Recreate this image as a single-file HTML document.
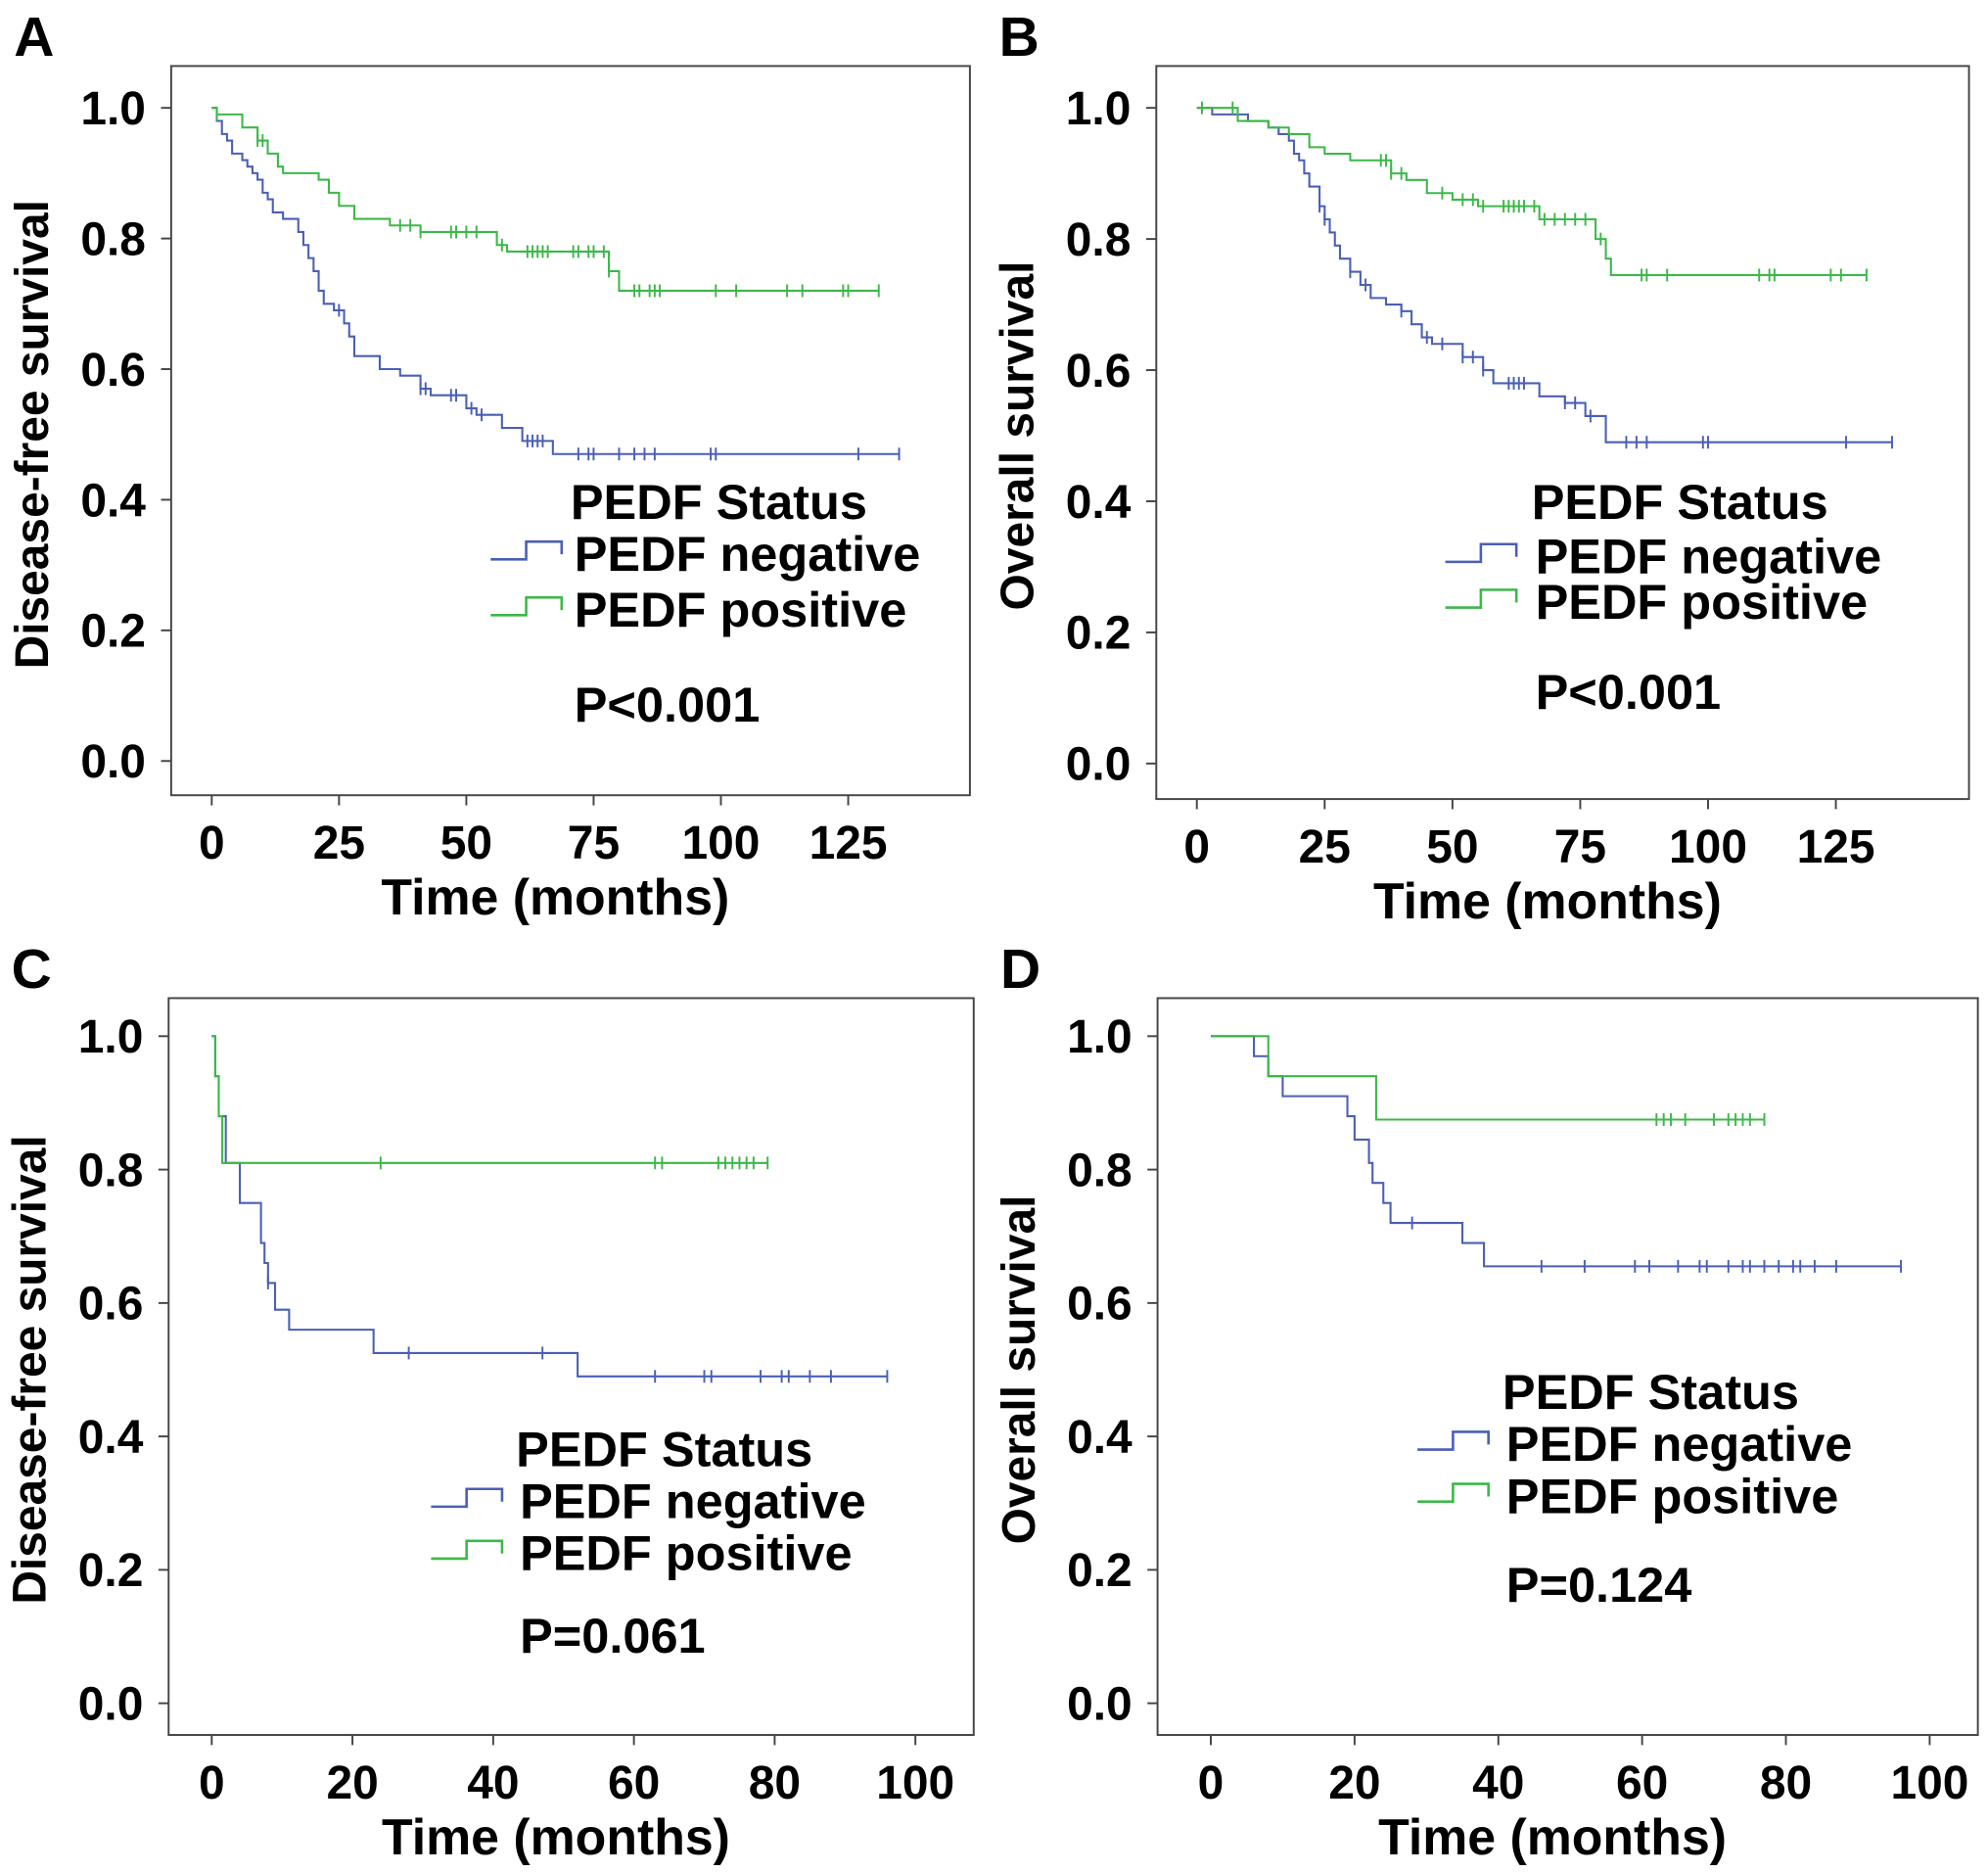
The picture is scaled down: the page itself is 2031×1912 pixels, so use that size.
<!DOCTYPE html>
<html><head><meta charset="utf-8"><style>
html,body{margin:0;padding:0;background:#fff}
svg{display:block}
text{font-family:"Liberation Sans",Arial,sans-serif;font-weight:bold;fill:#000}
</style></head><body>
<svg id="fig" width="2031" height="1912" viewBox="0 0 1568 1476" xmlns="http://www.w3.org/2000/svg"></svg>
<script>
// ---- Panel A data (Disease-free survival) ----
const aNegTimes=[0,1,2,3,4,6,7,8,9,10,11,12,14,17,18,19,20,21,22,24,26,27,28,33,37,41,43,50,52,57,61,67];
const aNegSurv=[1,0.98,0.96,0.95,0.93,0.92,0.91,0.90,0.89,0.87,0.86,0.84,0.83,0.81,0.79,0.77,0.75,0.72,0.70,0.69,0.67,0.65,0.62,0.60,0.59,0.57,0.56,0.54,0.53,0.51,0.49,0.47];
const aNegCens=[25,41,42,47,48,51,53,62,63,64,65,72,74,75,80,83,85,87,98,99,127,135];
const aPosTimes=[0,1,6,9,11,13,14,21,23,25,28,35,41,56,58,78,80];
const aPosSurv=[1,0.99,0.97,0.95,0.93,0.91,0.90,0.89,0.87,0.85,0.83,0.82,0.81,0.79,0.78,0.75,0.72];
const aPosCens=[1,9,10,37,39,41,47,48,50,52,57,62,63,64,65,66,71,72,74,75,77,78,83,84,86,87,88,99,103,113,116,124,125,131];
// ---- Panel B data (Overall survival) ----
const bNegTimes=[0,3,10,14,16,18,19,20,21,22,24,25,26,27,28,30,32,34,37,40,42,44,46,52,56,58,67,72,76,80];
const bNegSurv=[1,0.99,0.98,0.97,0.96,0.95,0.93,0.92,0.90,0.88,0.85,0.83,0.81,0.79,0.77,0.75,0.73,0.71,0.70,0.69,0.67,0.65,0.64,0.62,0.60,0.58,0.56,0.55,0.53,0.49];
const bNegCens=[24,25,30,33,40,45,48,52,54,56,61,62,63,64,72,74,77,84,86,88,99,100,127,136];
const bPosTimes=[0,8,14,18,22,25,30,38,41,45,50,55,67,78,80,81];
const bPosSurv=[1,0.98,0.97,0.96,0.94,0.93,0.92,0.90,0.89,0.87,0.86,0.85,0.83,0.80,0.77,0.745];
const bPosCens=[1,7,36,37,38,40,48,52,54,56,60,61,62,63,64,66,68,70,72,74,76,79,87,88,92,110,112,113,124,126,131];
// ---- Panel C data ----
const cNegTimes=[0,0.5,1,2,4,7,7.5,8,9,11,23,52];
const cNegSurv=[1,0.94,0.88,0.81,0.75,0.69,0.66,0.63,0.59,0.56,0.525,0.49];
const cNegCens=[8,28,47,63,70,71,78,81,82,85,88,96];
const cPosTimes=[0,0.5,1,1.5];
const cPosSurv=[1,0.94,0.88,0.81];
const cPosCens=[24,63,64,72,73,74,75,76,77,79];
// ---- Panel D data ----
const dNegTimes=[0,6,8,10,19,20,22,22.5,24,25,35,38];
const dNegSurv=[1,0.97,0.94,0.91,0.88,0.845,0.81,0.78,0.75,0.72,0.69,0.655];
const dNegCens=[28,46,52,59,61,65,68,69,72,74,75,77,79,81,82,84,87,96];
const dPosTimes=[0,8,23];
const dPosSurv=[1,0.94,0.875];
const dPosCens=[62,63,64,66,70,72,73,74,75,77];
// tick labels
const yTicks=[0,0.2,0.4,0.6,0.8,1.0];
const xTicksAB=[0,25,50,75,100,125];
const xTicksCD=[0,20,40,60,80,100];
const pA="P<0.001", pB="P<0.001", pC="P=0.061", pD="P=0.124";

const NS="http://www.w3.org/2000/svg";
const svg=document.getElementById('fig');
function mk(tag,attrs,parent){const e=document.createElementNS(NS,tag);for(const k in attrs)e.setAttribute(k,attrs[k]);(parent||svg).appendChild(e);return e;}
const BLUE="#4a5fb5", GREEN="#3cb84a";

const panels=[
 {id:'a',letter:'A',box:[135,52,765,627],y1:85,y0:600,x0:167,xMax:125,xMaxPx:669,xt:xTicksAB,ytitle:'Disease-free survival',
  neg:[aNegTimes,aNegSurv,aNegCens,135],pos:[aPosTimes,aPosSurv,aPosCens,131],p:pA,
  leg:{sx:387,tx:450,st:396,ng:437,ps:481,pv:556}},
 {id:'b',letter:'B',box:[912,52,1553,630],y1:85,y0:602,x0:944,xMax:125,xMaxPx:1448,xt:xTicksAB,ytitle:'Overall survival',
  neg:[bNegTimes,bNegSurv,bNegCens,136],pos:[bPosTimes,bPosSurv,bPosCens,131],p:pB,
  leg:{sx:1140,tx:1208,st:396,ng:439,ps:475,pv:546}},
 {id:'c',letter:'C',box:[133,787,768,1368],y1:817,y0:1343,x0:167,xMax:100,xMaxPx:722,xt:xTicksCD,ytitle:'Disease-free survival',
  neg:[cNegTimes,cNegSurv,cNegCens,96],pos:[cPosTimes,cPosSurv,cPosCens,79],p:pC,
  leg:{sx:340,tx:407,st:1143,ng:1184,ps:1225,pv:1290}},
 {id:'d',letter:'D',box:[913,787,1560,1368],y1:817,y0:1343,x0:955,xMax:100,xMaxPx:1522,xt:xTicksCD,ytitle:'Overall survival',
  neg:[dNegTimes,dNegSurv,dNegCens,96],pos:[dPosTimes,dPosSurv,dPosCens,77],p:pD,
  leg:{sx:1118,tx:1185,st:1098,ng:1139,ps:1180,pv:1250}}
];

panels.forEach(P=>{
  const g=mk('g',{});
  
  
  const X=t=>P.x0+(P.xMaxPx-P.x0)*t/P.xMax;
  const Y=s=>P.y0+(P.y1-P.y0)*s;
  const [l,t,r,b]=P.box;
  const lt=mk('text',{x:l-124,y:t-8,'font-size':44},g);lt.textContent=P.letter;
  
  
  const fr=mk('rect',{x:l,y:t,width:r-l,height:b-t,fill:'none',stroke:'#444','stroke-width':1.5},g);
  
  
  yTicks.forEach(v=>{
    mk('line',{x1:l-8,x2:l,y1:Y(v),y2:Y(v),stroke:'#444','stroke-width':1.5},g);
    const tx=mk('text',{x:l-20,y:Y(v)+13,'font-size':37,'text-anchor':'end'},g);tx.textContent=v.toFixed(1);
    
    
  });
  P.xt.forEach(v=>{
    mk('line',{x1:X(v),x2:X(v),y1:b,y2:b+8,stroke:'#444','stroke-width':1.5},g);
    const tx=mk('text',{x:X(v),y:b+50,'font-size':37,'text-anchor':'middle'},g);tx.textContent=v;
    
    
  });
  const xt=mk('text',{x:(l+r)/2-12,y:b+94,'font-size':40,'text-anchor':'middle'},g);xt.textContent='Time (months)';
  
  
  const cy=(P.y0+P.y1)/2;
  const yt=mk('text',{x:0,y:0,'font-size':37,'text-anchor':'middle',transform:`translate(${l-97},${cy}) rotate(-90)`},g);yt.textContent=P.ytitle;
  
  
  [[P.neg,BLUE,'negative'],[P.pos,GREEN,'positive']].forEach(([S,col,nm])=>{
    const [ts,ss,cs,end]=S;
    let d=`M${X(ts[0])},${Y(ss[0])}`;
    for(let i=1;i<ts.length;i++){d+=` H${X(ts[i])} V${Y(ss[i])}`;}
    d+=` H${X(end)}`;
    const pth=mk('path',{d:d,fill:'none',stroke:col,'stroke-width':1.6},g);
    
    
    cs.forEach(c=>{
      let s=ss[0];for(let i=0;i<ts.length;i++){if(ts[i]<=c)s=ss[i];}
      const tk=mk('line',{x1:X(c),x2:X(c),y1:Y(s)-5,y2:Y(s)+5,stroke:col,'stroke-width':1.5},g);
      
      
    });
  });
  const L=P.leg;
  const t1=mk('text',{x:L.tx,y:L.st+13,'font-size':39},g);t1.textContent='PEDF Status';
  
  
  [[L.ng,BLUE,'PEDF negative','legend-entry-negative'],[L.ps,GREEN,'PEDF positive','legend-entry-positive']].forEach(([yy,col,txt,nm])=>{
    const sy=yy+4;
    const sym=mk('path',{d:`M${L.sx},${sy} H${L.sx+28} V${sy-14} H${L.sx+56} V${sy-4}`,fill:'none',stroke:col,'stroke-width':2},g);
    
    
    const tx=mk('text',{x:L.tx+3,y:yy+13,'font-size':39},g);tx.textContent=txt;
    
    
  });
  const pv=mk('text',{x:L.tx+3,y:L.pv+13,'font-size':39},g);pv.textContent=P.p;
  
  
});
</script>
</body></html>
